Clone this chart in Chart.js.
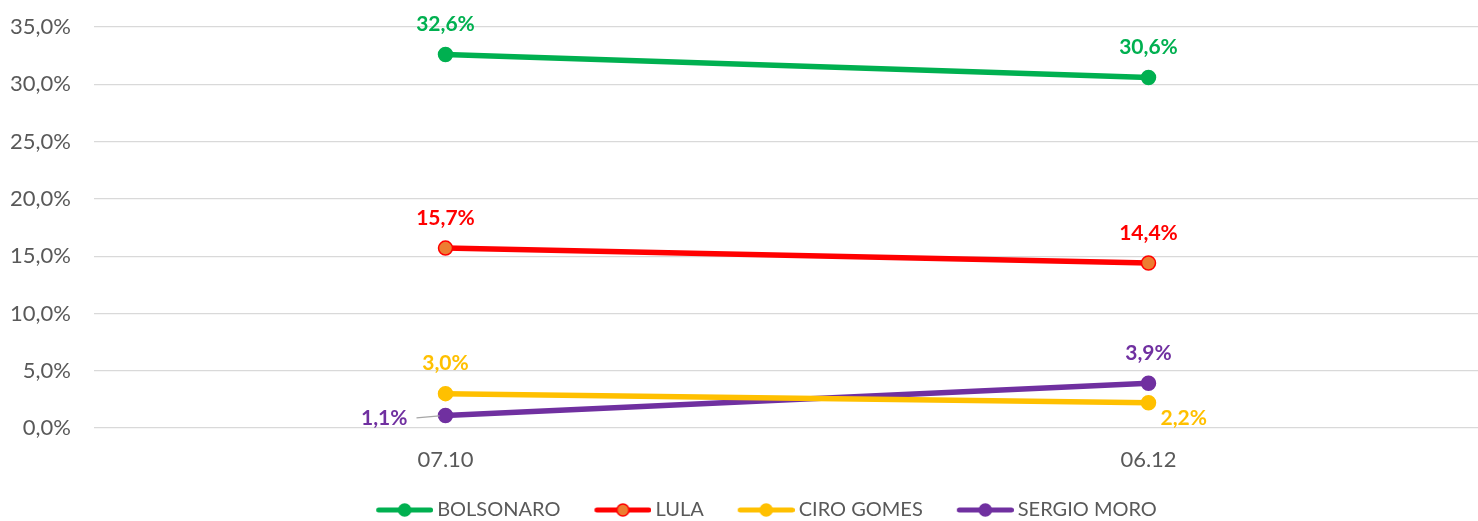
<!DOCTYPE html>
<html>
<head>
<meta charset="utf-8">
<script src="https://cdn.jsdelivr.net/npm/chart.js@4/dist/chart.umd.min.js"></script>
<style>
  html, body { margin: 0; padding: 0; overflow: hidden; background: #fff; }
  #wrap { width: 1500px; height: 530px; }
</style>
</head>
<body>
<div id="wrap"><canvas id="chart" width="1500" height="530"></canvas></div>
<script>
// data
const dates = ['07.10', '06.12'];
const names = ['BOLSONARO', 'LULA', 'CIRO GOMES', 'SERGIO MORO'];
const bolsonaro = [32.6, 30.6];
const lula = [15.7, 14.4];
const ciro = [3.0, 2.2];
const moro = [1.1, 3.9];
const yMin = 0, yMax = 35, yStep = 5;

// styles
const lineColors = ['#00B050', '#FF0000', '#FFC000', '#7030A0'];
const pointFills = ['#00B050', '#ED7D31', '#FFC000', '#7030A0'];
const labelSpots = [['top', 'top'], ['top', 'top'], ['top', 'belowRight'], ['leftLine', 'top']];
const FONT = 'Lato, "Open Sans", sans-serif';
const GREY = '#595959';

const fmt = v => v.toFixed(1).replace('.', ',') + '%';

// legend icon: line with a marker, drawn on a small canvas
function legendIcon(line, fill) {
    const c = document.createElement('canvas');
    c.width = 96; c.height = 16;
    const g = c.getContext('2d');
    g.strokeStyle = line; g.lineWidth = 5; g.lineCap = 'round';
    g.beginPath(); g.moveTo(41.5, 8); g.lineTo(93.5, 8); g.stroke();
    g.beginPath(); g.arc(67.5, 8, 6, 0, Math.PI * 2);
    g.fillStyle = fill; g.fill();
    g.lineWidth = 1.5; g.strokeStyle = line; g.stroke();
    return c;
}

// value labels next to the points
const valueLabels = {
    id: 'valueLabels',
    afterDatasetsDraw(chart) {
        const ctx = chart.ctx;
        ctx.save();
        ctx.font = 'bold 21px ' + FONT;
        ctx.textBaseline = 'middle';
        chart.data.datasets.forEach((ds, i) => {
            chart.getDatasetMeta(i).data.forEach((pt, j) => {
                const spot = labelSpots[i][j];
                const text = fmt(ds.data[j]);
                ctx.fillStyle = lineColors[i];
                if (spot === 'top') {
                    ctx.textAlign = 'center';
                    ctx.fillText(text, pt.x, pt.y - 30);
                } else if (spot === 'belowRight') {
                    ctx.textAlign = 'left';
                    ctx.fillText(text, pt.x + 12, pt.y + 15);
                } else {
                    ctx.textAlign = 'right';
                    ctx.fillText(text, pt.x - 38, pt.y + 3);
                    ctx.strokeStyle = '#A6A6A6';
                    ctx.lineWidth = 1.2;
                    ctx.beginPath();
                    ctx.moveTo(pt.x - 29, pt.y + 2.5);
                    ctx.lineTo(pt.x - 6, pt.y + 0.5);
                    ctx.stroke();
                }
            });
        });
        ctx.restore();
    }
};

const series = [bolsonaro, lula, ciro, moro];
const icons = series.map((s, i) => legendIcon(lineColors[i], pointFills[i]));

new Chart(document.getElementById('chart').getContext('2d'), {
    type: 'line',
    data: {
        labels: dates,
        datasets: series.map((s, i) => ({
            label: names[i],
            data: s,
            borderColor: lineColors[i],
            backgroundColor: pointFills[i],
            pointBackgroundColor: pointFills[i],
            pointBorderColor: lineColors[i],
            pointBorderWidth: 1.5,
            pointRadius: 7,
            borderWidth: 5.5,
            tension: 0
        }))
    },
    options: {
        responsive: false,
        animation: false,
        events: [],
        layout: { autoPadding: false, padding: { top: 27, right: 0, left: 0, bottom: 0 } },
        scales: {
            x: {
                offset: true,
                grid: { display: false },
                border: { display: false },
                ticks: { color: GREY, font: { family: FONT, size: 22 }, padding: 11 },
                afterFit: s => { s.height = 71; s.paddingLeft = 0; s.paddingRight = 0; }
            },
            y: {
                min: yMin,
                max: yMax,
                grid: { color: '#D9D9D9', lineWidth: 1.2, drawTicks: false },
                border: { display: false },
                ticks: {
                    stepSize: yStep,
                    color: GREY,
                    font: { family: FONT, size: 22 },
                    padding: 23,
                    callback: v => fmt(v)
                },
                afterFit: s => { s.width = 94; s.paddingTop = 0; s.paddingBottom = 0; }
            }
        },
        plugins: {
            tooltip: { enabled: false },
            legend: {
                position: 'bottom',
                labels: {
                    usePointStyle: true,
                    pointStyleWidth: 84,
                    padding: 1,
                    color: GREY,
                    font: { family: FONT, size: 20 },
                    generateLabels: chart => chart.data.datasets.map((ds, i) => ({
                        text: ds.label,
                        pointStyle: icons[i],
                        fillStyle: pointFills[i],
                        strokeStyle: lineColors[i],
                        lineWidth: 0,
                        fontColor: GREY,
                        hidden: false,
                        datasetIndex: i
                    }))
                }
            }
        }
    },
    plugins: [valueLabels]
});
</script>
</body>
</html>
